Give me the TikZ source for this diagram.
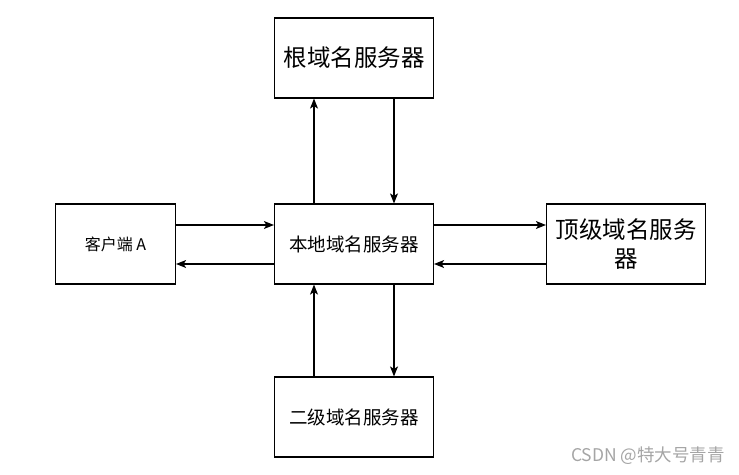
\documentclass[tikz,border=0pt]{standalone}
\usepackage{fontspec}
\setmainfont{Noto Sans CJK SC}
\usetikzlibrary{arrows.meta}
\definecolor{wm}{RGB}{165,165,165}
\begin{document}
\begin{tikzpicture}[x=1pt,y=-1pt,
  box/.style={draw, line width=1.2pt, minimum width=159pt, minimum height=80pt, inner sep=0pt, align=center},
  conn/.style={line width=1.2pt, -{Stealth[length=10pt,width=8pt,inset=2.5pt]}}]
\useasboundingbox (0,0) rectangle (739,474);
\node[box, font=\fontsize{23.5}{28}\selectfont] (root) at (354,58) {根域名服务器};
\node[box, minimum width=120pt, font=\fontsize{16}{19}\selectfont] (client) at (115.5,244) {客户端 A};
\node[box, font=\fontsize{18.5}{22}\selectfont] (local) at (354,244) {本地域名服务器};
\node[box, font=\fontsize{23.5}{29}\selectfont] (tld) at (626,244) {顶级域名服务\\器};
\node[box, font=\fontsize{18.5}{22}\selectfont] (second) at (354,417) {二级域名服务器};
\node[anchor=east, text=wm, inner sep=0pt, font=\fontsize{17.5}{20}\selectfont] (wmk) at (725,456) {CSDN @特大号青青};
% root
\draw[conn] (local.north -| 314,0) -- (root.south -| 314,0);
\draw[conn] (root.south -| 394,0) -- (local.north -| 394,0);
% client
\draw[conn] (client.east |- 0,225) -- (local.west |- 0,225);
\draw[conn] (local.west |- 0,264) -- (client.east |- 0,264);
% tld
\draw[conn] (local.east |- 0,225) -- (tld.west |- 0,225);
\draw[conn] (tld.west |- 0,264) -- (local.east |- 0,264);
% second
\draw[conn] (second.north -| 314,0) -- (local.south -| 314,0);
\draw[conn] (local.south -| 394,0) -- (second.north -| 394,0);
\end{tikzpicture}
\end{document}
